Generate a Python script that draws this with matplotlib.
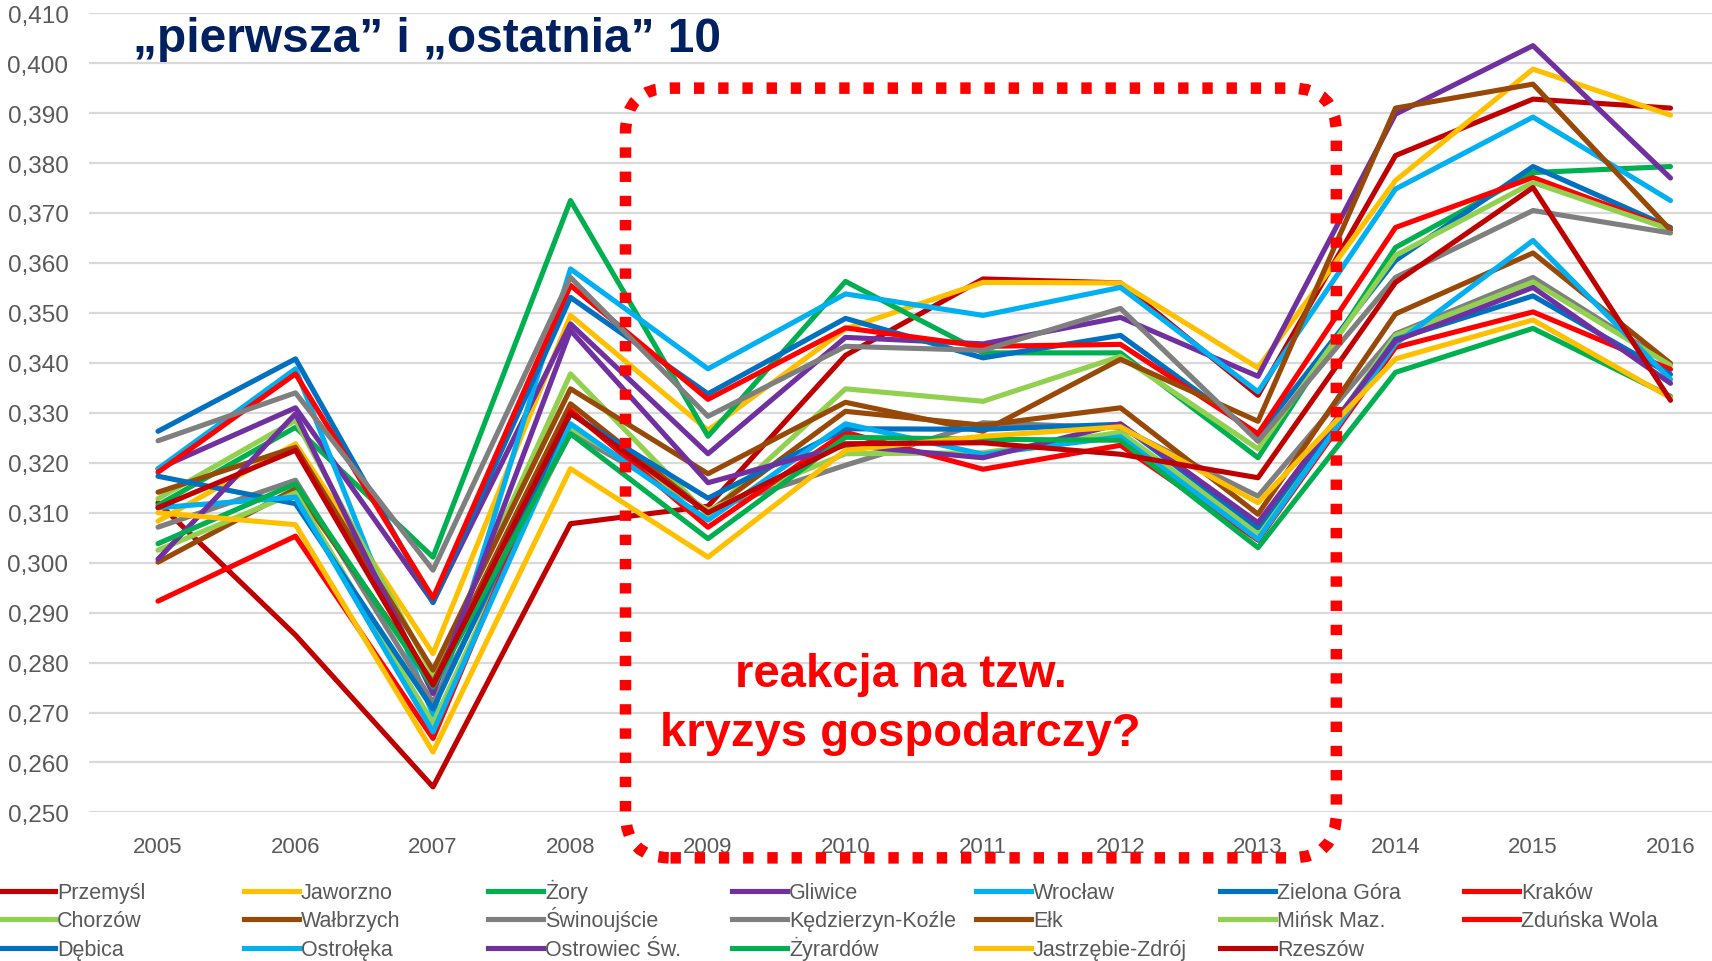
import matplotlib
matplotlib.use("Agg")
import matplotlib.pyplot as plt
from matplotlib.lines import Line2D
from matplotlib.patches import FancyBboxPatch
import numpy as np

plt.rcParams['font.family'] = ['Liberation Sans', 'DejaVu Sans']

years = [2005, 2006, 2007, 2008, 2009, 2010, 2011, 2012, 2013, 2014, 2015, 2016]

names = ["Przemyśl", "Jaworzno", "Żory", "Gliwice", "Wrocław", "Zielona Góra", "Kraków",
         "Chorzów", "Wałbrzych", "Świnoujście", "Kędzierzyn-Koźle", "Ełk", "Mińsk Maz.",
         "Zduńska Wola", "Dębica", "Ostrołęka", "Ostrowiec Św.", "Żyrardów",
         "Jastrzębie-Zdrój", "Rzeszów"]

colors = ["#C00000", "#FFC000", "#00B050", "#7030A0", "#00B0F0", "#0070C0", "#FF0000",
          "#92D050", "#984807", "#7F7F7F", "#7F7F7F", "#984807", "#92D050", "#FF0000",
          "#0070C0", "#00B0F0", "#7030A0", "#00B050", "#FFC000", "#C00000"]

przemysl    = [0.3120, 0.2855, 0.2551, 0.3078, 0.3113, 0.3415, 0.3568, 0.3560, 0.3335, 0.3815, 0.3928, 0.3910]
jaworzno    = [0.3083, 0.3238, 0.2818, 0.3495, 0.3265, 0.3468, 0.3561, 0.3560, 0.3390, 0.3765, 0.3988, 0.3896]
zory        = [0.3115, 0.3271, 0.3011, 0.3725, 0.3253, 0.3563, 0.3420, 0.3420, 0.3210, 0.3631, 0.3781, 0.3793]
gliwice     = [0.3188, 0.3310, 0.2921, 0.3478, 0.3218, 0.3451, 0.3438, 0.3491, 0.3373, 0.3898, 0.4035, 0.3770]
wroclaw     = [0.3188, 0.3388, 0.2695, 0.3588, 0.3388, 0.3538, 0.3495, 0.3551, 0.3342, 0.3748, 0.3892, 0.3725]
zielona     = [0.3263, 0.3408, 0.2920, 0.3531, 0.3338, 0.3489, 0.3410, 0.3455, 0.3255, 0.3605, 0.3793, 0.3671]
krakow      = [0.3181, 0.3378, 0.2929, 0.3555, 0.3327, 0.3470, 0.3433, 0.3437, 0.3258, 0.3671, 0.3771, 0.3669]
chorzow     = [0.3128, 0.3285, 0.2775, 0.3378, 0.3095, 0.3348, 0.3323, 0.3413, 0.3228, 0.3615, 0.3761, 0.3667]
walbrzych   = [0.3141, 0.3231, 0.2785, 0.3348, 0.3178, 0.3321, 0.3263, 0.3407, 0.3283, 0.3910, 0.3958, 0.3666]
swinoujscie = [0.3244, 0.3340, 0.2985, 0.3571, 0.3293, 0.3433, 0.3425, 0.3509, 0.3243, 0.3571, 0.3705, 0.3660]
kedzierzyn  = [0.3071, 0.3165, 0.2720, 0.3260, 0.3105, 0.3195, 0.3280, 0.3270, 0.3133, 0.3458, 0.3571, 0.3397]
elk         = [0.3001, 0.3148, 0.2760, 0.3318, 0.3100, 0.3303, 0.3275, 0.3310, 0.3097, 0.3498, 0.3620, 0.3399]
minsk       = [0.3025, 0.3140, 0.2678, 0.3270, 0.3105, 0.3218, 0.3220, 0.3261, 0.3060, 0.3455, 0.3562, 0.3395]
zdunska     = [0.2923, 0.3053, 0.2648, 0.3305, 0.3071, 0.3261, 0.3187, 0.3235, 0.3045, 0.3431, 0.3502, 0.3387]
debica      = [0.3173, 0.3118, 0.2707, 0.3298, 0.3129, 0.3268, 0.3267, 0.3277, 0.3070, 0.3447, 0.3534, 0.3377]
ostroleka   = [0.3110, 0.3131, 0.2661, 0.3278, 0.3085, 0.3278, 0.3217, 0.3252, 0.3047, 0.3438, 0.3645, 0.3367]
ostrowiec   = [0.3007, 0.3298, 0.2738, 0.3465, 0.3160, 0.3235, 0.3210, 0.3278, 0.3080, 0.3444, 0.3551, 0.3359]
zyrardow    = [0.3038, 0.3158, 0.2751, 0.3258, 0.3048, 0.3251, 0.3247, 0.3245, 0.3030, 0.3381, 0.3469, 0.3333]
jastrzebie  = [0.3100, 0.3076, 0.2621, 0.3188, 0.3011, 0.3225, 0.3253, 0.3272, 0.3120, 0.3408, 0.3486, 0.3330]
rzeszow     = [0.3110, 0.3225, 0.2755, 0.3300, 0.3100, 0.3238, 0.3240, 0.3217, 0.3170, 0.3561, 0.3751, 0.3325]

series = [przemysl, jaworzno, zory, gliwice, wroclaw, zielona, krakow, chorzow, walbrzych,
          swinoujscie, kedzierzyn, elk, minsk, zdunska, debica, ostroleka, ostrowiec,
          zyrardow, jastrzebie, rzeszow]

y_ticks = np.round(np.arange(0.25, 0.4101, 0.01), 3)

title = "„pierwsza” i „ostatnia” 10"
note = "reakcja na tzw.\nkryzys gospodarczy?"

W, H = 1712, 962
fig = plt.figure(figsize=(W / 100, H / 100), dpi=100)
ax_left, ax_right, ax_top, ax_bottom = 89.25, 1712, 14.2, 813.4
ax = fig.add_axes([ax_left / W, 1 - ax_bottom / H, (ax_right - ax_left) / W, (ax_bottom - ax_top) / H])

for vals, c in zip(series, colors):
    ax.plot(years, vals, color=c, lw=3.7, solid_joinstyle='round', solid_capstyle='round', zorder=3)

ax.set_xlim(2004.5, 2005 + (1712 - 158) / 137.5)
ax.set_ylim(0.25, 0.41)
ax.set_yticks(y_ticks)
ax.set_yticklabels([f"{v:.3f}".replace('.', ',') for v in y_ticks])
ax.set_xticks(years)
ax.set_xticklabels([str(y) for y in years])
ax.tick_params(axis='y', length=0, pad=15, labelsize=17.5, labelcolor='#595959')
ax.tick_params(axis='x', length=0, pad=17, labelsize=16, labelcolor='#595959')
ax.grid(axis='y', color='#D9D9D9', lw=1.6, zorder=0)
ax.set_axisbelow(True)
for s in ax.spines.values():
    s.set_visible(False)

fig.text(133 / W, 1 - 52 / H, title, fontsize=34.5, fontweight='bold', color='#002060',
         ha='left', va='baseline')

ax.text(2010.40, 0.2718, note, fontsize=34, fontweight='bold', color='#FF0000',
        ha='center', va='center', linespacing=1.42, zorder=6)

# dotted rounded frame (annotation), defined in data units
box_x = (2008.40, 2013.57)
box_y = (0.2409, 0.3950)
p0 = ax.transData.transform((box_x[0], box_y[0])) / fig.dpi
p1 = ax.transData.transform((box_x[1], box_y[1])) / fig.dpi
frame = FancyBboxPatch((p0[0], p0[1]), p1[0] - p0[0], p1[1] - p0[1],
                       boxstyle="round,pad=0,rounding_size=0.45",
                       transform=fig.dpi_scale_trans, fill=False, ec='#FF0000',
                       lw=8.3, linestyle=(0, (0.9, 1.2)), capstyle='butt', zorder=10, clip_on=False)
fig.add_artist(frame)

# legend (row-wise, 7 columns)
col_w = 244.0
row_y = [892, 920, 949]
for i, (n, c) in enumerate(zip(names, colors)):
    r, k = divmod(i, 7)
    x0 = k * col_w
    yy = 1 - row_y[r] / H
    fig.add_artist(Line2D([x0 / W, (x0 + 55) / W], [yy, yy], color=c, lw=3.7,
                          transform=fig.transFigure))
    fig.text((x0 + 57) / W, 1 - (row_y[r] + 7.5) / H, n, fontsize=15.5, color='#595959',
             ha='left', va='baseline')

fig.savefig("out.png", dpi=100)
